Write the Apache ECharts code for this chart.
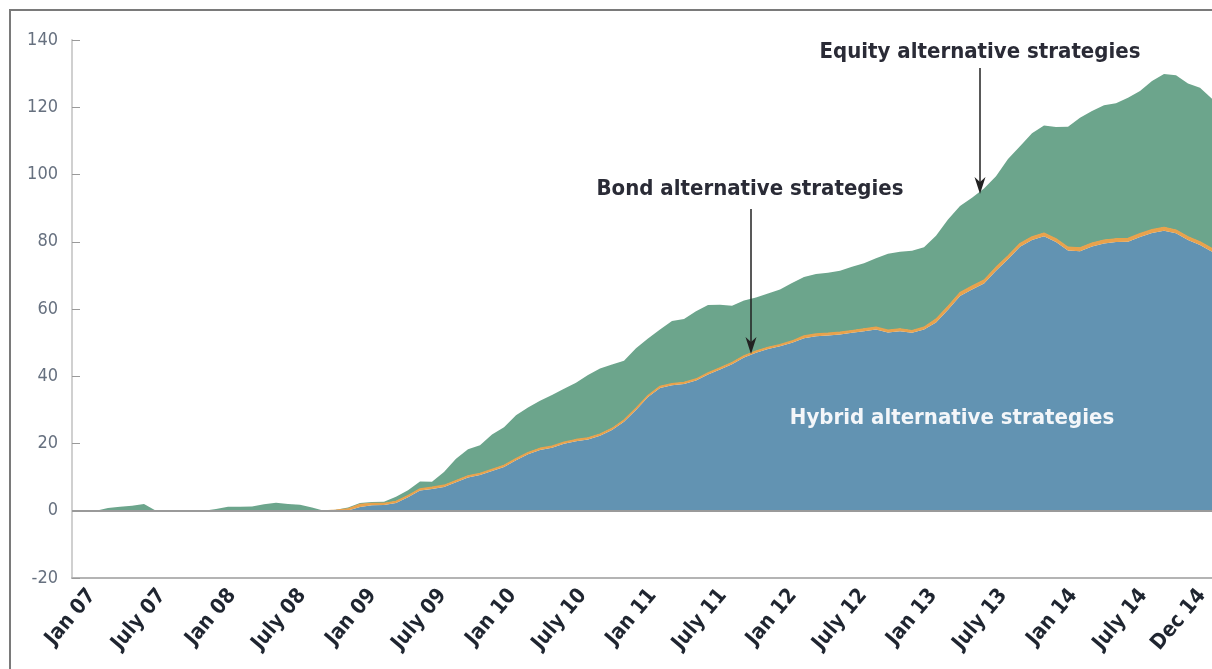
<!DOCTYPE html>
<html>
<head>
<meta charset="utf-8">
<script src="https://cdn.jsdelivr.net/npm/echarts@6/dist/echarts.min.js"></script>
<style>
html,body{margin:0;padding:0;background:#fff;}
#chart{width:1212px;height:669px;}
</style>
</head>
<body>
<div id="chart"></div>
<script>
// Monthly, Jan 07 .. Dec 14
const monthNames = ["Jan","Feb","Mar","Apr","May","June","July","Aug","Sep","Oct","Nov","Dec"];
const years = ["07","08","09","10","11","12","13","14"];
const categories = [];
years.forEach(y => monthNames.forEach(m => categories.push(m + " " + y)));

const yTicks = { min: -20, max: 140, step: 20 };

const hybrid = [
  0,0,0,0,0,0,0,0,0,0,0,0,
  0,0,0,0,0,0,0,0,0,0,0,0.1,
  1.1,1.6,1.7,2.3,4.0,6.0,6.5,7.1,8.5,9.9,10.6,11.8,
  13.0,15.0,16.8,18.1,18.7,19.9,20.7,21.2,22.3,24.0,26.5,30.0,
  33.8,36.5,37.3,37.7,38.7,40.5,42.0,43.6,45.6,47.0,48.1,48.9,
  50.0,51.3,51.9,52.1,52.4,52.9,53.4,53.9,53.0,53.4,52.9,53.9,
  56.0,59.8,63.9,65.8,67.6,71.4,74.8,78.5,80.5,81.6,79.9,77.4,
  77.2,78.6,79.5,79.9,80.0,81.4,82.6,83.3,82.5,80.5,79.0,77.0
];
const bond = [
  0,0,0,0,0,0,0,0,0,0,0,0,
  0,0,0,0,0,0,0,0,0,0,0.2,0.5,
  0.8,0.6,0.5,0.5,0.5,0.5,0.5,0.5,0.5,0.5,0.5,0.5,
  0.5,0.5,0.5,0.5,0.5,0.5,0.5,0.5,0.5,0.5,0.5,0.5,
  0.5,0.5,0.5,0.5,0.5,0.5,0.5,0.5,0.5,0.5,0.5,0.5,
  0.5,0.7,0.7,0.7,0.7,0.7,0.7,0.7,0.7,0.7,0.7,0.7,
  1.0,1.0,1.0,1.0,1.0,1.0,1.0,1.0,1.0,1.0,1.0,1.0,
  1.0,1.0,1.0,1.0,1.0,1.0,1.0,1.0,1.0,1.0,1.0,1.0
];
const equity = [
  0,0,0,0.8,1.2,1.5,2.0,0,0,0,0,0,
  0.5,1.2,1.2,1.3,1.9,2.4,2.0,1.8,1.0,0,0.1,0.4,
  0.4,0.4,0.5,1.4,1.6,2.2,1.6,3.9,6.5,7.9,8.4,10.4,
  11.3,12.9,13.4,14.1,15.2,15.9,16.9,18.7,19.5,19.0,17.6,17.8,
  16.9,16.9,18.6,18.8,20.1,20.2,18.8,16.9,16.4,15.9,16.0,16.4,
  17.2,17.5,17.8,18.0,18.3,19.0,19.5,20.5,22.7,22.9,23.7,23.8,
  24.8,25.8,25.7,26.3,27.2,27.1,28.8,28.9,30.8,32.0,33.2,35.8,
  38.7,39.3,40.1,40.3,41.8,42.4,44.2,45.6,46.0,45.6,45.8,44.5
];

const seriesNames = ["Hybrid alternative strategies","Bond alternative strategies","Equity alternative strategies"];
const colors = { hybrid: "#6293b2", bond: "#e9a24c", equity: "#6ca58c" };

const FONT = "'Liberation Sans Narrow','DejaVu Sans Condensed',sans-serif";

const chart = echarts.init(document.getElementById('chart'), null, { renderer: 'canvas' });

function areaSeries(name, data, color, lineW, z) {
  return {
    name: name, type: 'line', stack: 'total', data: data,
    xAxisIndex: 0, yAxisIndex: 0,
    symbol: 'none', smooth: false, z: z,
    lineStyle: { width: lineW, color: color },
    areaStyle: { color: color, opacity: 1 },
    emphasis: { disabled: true }
  };
}

const sHybrid = areaSeries(seriesNames[0], hybrid, colors.hybrid, 0, 3);
sHybrid.markLine = {
  silent: true, symbol: 'none', animation: false,
  label: { show: false },
  lineStyle: { color: '#9a9a9a', width: 2, type: 'solid' },
  data: [{ yAxis: 0 }]
};

const option = {
  animation: false,
  backgroundColor: '#ffffff',
  grid: [
    { left: 72, right: -2, top: 40, bottom: 91, containLabel: false },
    { left: 92, right: -22, top: 40, bottom: 91, containLabel: false }
  ],
  xAxis: [
    {
      type: 'category', gridIndex: 0, data: categories, boundaryGap: false,
      axisLine: { show: true, onZero: false, lineStyle: { color: '#b4b4b4', width: 2 } },
      axisTick: { show: false }, axisLabel: { show: false }, splitLine: { show: false }
    },
    {
      type: 'category', gridIndex: 1, data: categories, boundaryGap: false,
      axisLine: { show: false }, axisTick: { show: false }, splitLine: { show: false },
      axisLabel: {
        interval: function (idx) { return idx % 6 === 0 || idx === categories.length - 1; },
        rotate: 50, margin: 14,
        fontFamily: FONT, fontSize: 21, color: '#1f2530', fontWeight: 'bold'
      }
    }
  ],
  yAxis: [
    {
      type: 'value', gridIndex: 0, min: yTicks.min, max: yTicks.max, interval: yTicks.step,
      axisLine: { show: true, lineStyle: { color: '#d0d0d0', width: 2 } },
      axisTick: { show: true, inside: true, length: 8, lineStyle: { color: '#9a9a9a', width: 1 } },
      axisLabel: { margin: 14, fontFamily: "'DejaVu Sans Condensed',sans-serif", fontSize: 18, color: '#66707f' },
      splitLine: { show: false }
    },
    { type: 'value', gridIndex: 1, min: yTicks.min, max: yTicks.max, show: false }
  ],
  series: [
    sHybrid,
    areaSeries(seriesNames[1], bond, colors.bond, 1.2, 4),
    areaSeries(seriesNames[2], equity, colors.equity, 0, 2)
  ],
  graphic: [
    { type: 'rect', silent: true, shape: { x: 10, y: 10, width: 1240, height: 720 },
      style: { fill: 'none', stroke: '#7a7a7a', lineWidth: 2 }, z: 100 },
    { type: 'text', silent: true, z: 100,
      style: { text: 'Equity alternative strategies', x: 980, y: 52, align: 'center', verticalAlign: 'middle',
               font: 'bold 22px ' + FONT, fill: '#2a2b36' } },
    { type: 'line', silent: true, z: 100, shape: { x1: 980, y1: 68, x2: 980, y2: 186 },
      style: { stroke: '#222', lineWidth: 1.5 } },
    { type: 'polygon', silent: true, z: 100, shape: { points: [[980, 194], [974.5, 177], [980, 182], [985.5, 177]] },
      style: { fill: '#222' } },
    { type: 'text', silent: true, z: 100,
      style: { text: 'Bond alternative strategies', x: 750, y: 189, align: 'center', verticalAlign: 'middle',
               font: 'bold 22px ' + FONT, fill: '#2a2b36' } },
    { type: 'line', silent: true, z: 100, shape: { x1: 751, y1: 209, x2: 751, y2: 346 },
      style: { stroke: '#222', lineWidth: 1.5 } },
    { type: 'polygon', silent: true, z: 100, shape: { points: [[751, 354], [745.5, 337], [751, 342], [756.5, 337]] },
      style: { fill: '#222' } },
    { type: 'text', silent: true, z: 100,
      style: { text: 'Hybrid alternative strategies', x: 952, y: 418, align: 'center', verticalAlign: 'middle',
               font: 'bold 22px ' + FONT, fill: '#f3f6f9' } }
  ]
};

chart.setOption(option);
</script>
</body>
</html>
